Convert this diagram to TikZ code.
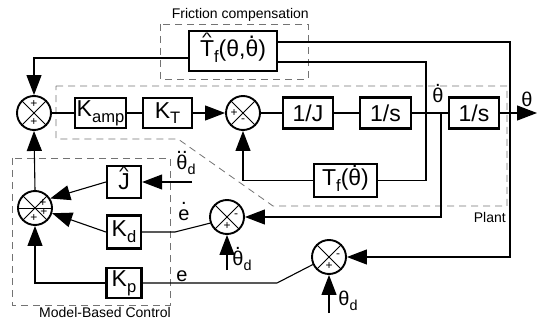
\documentclass[tikz,border=0pt]{standalone}
\usepackage{fontspec}
\setmainfont{Liberation Sans}
\usetikzlibrary{arrows.meta,calc}
\newcommand\dt[1]{\ooalign{#1\cr\hidewidth\raisebox{0.8em}{.}\hidewidth\cr}}
\newcommand\ddt[1]{\ooalign{#1\cr\hidewidth\raisebox{0.8em}{..}\hidewidth\cr}}
\newcommand\hatx[1]{\ooalign{#1\cr\hidewidth\raisebox{0.6em}{\scalebox{0.9}[0.6]{\textasciicircum}}\hidewidth\cr}}
\newcommand\sub[1]{\raisebox{-0.25em}{\scalebox{0.72}{#1}}}
\begin{document}
\begin{tikzpicture}[x=1pt,y=-1pt,
  blk/.style={draw,line width=2.3pt,inner sep=0pt,font=\fontsize{23}{23}\selectfont},
  sumc/.style={draw,circle,line width=1.9pt,minimum size=34pt,inner sep=0pt},
  ln/.style={line width=1.1pt},
  arr/.style={line width=1.1pt,-{Triangle[length=20pt,width=15pt]}},
  sgn/.style={inner sep=0pt,font=\fontsize{12}{12}\selectfont},
  sig/.style={inner sep=0pt,font=\fontsize{20}{20}\selectfont},
  lbl/.style={inner sep=0pt,font=\fontsize{14}{14}\selectfont},
  dsh/.style={draw=black!55,line width=0.8pt,dash pattern=on 7pt off 5pt}]
\useasboundingbox (0,0) rectangle (537,320);

% dashed groups
\draw[dsh] (160,24) rectangle (308,79);
\draw[dsh] (56,86) -- (507,86) -- (507,206) -- (273,206) -- (178,139) -- (56,139) -- cycle;
\draw[dsh] (12,158) rectangle (170,305);
\node[lbl,anchor=east] (lfc) at (309,15) {Friction compensation};
\node[lbl,anchor=east] (lpl) at (506,217) {Plant};
\node[lbl] (lmb) at (105,312) {Model-Based Control};

% blocks
\node[blk,minimum width=51pt,minimum height=30pt] (kamp) at (100.5,113) {K\sub{amp}};
\node[blk,minimum width=49pt,minimum height=30pt] (kt) at (167.5,113) {K\sub{T}};
\node[blk,minimum width=50pt,minimum height=31pt] (ij) at (308,113) {1/J};
\node[blk,minimum width=51pt,minimum height=31pt] (is1) at (385.5,113) {1/s};
\node[blk,minimum width=50pt,minimum height=31pt] (is2) at (474,113) {1/s};
\node[blk,minimum width=88pt,minimum height=40pt] (tfh) at (233,51) {\hatx{T}\sub{f}(θ,\dt{θ})};
\node[blk,minimum width=63pt,minimum height=33pt] (tf) at (345.5,180.5) {T\sub{f}(\dt{θ})};
\node[blk,minimum width=34pt,minimum height=32pt] (jh) at (124,182) {\hatx{J}};
\node[blk,minimum width=34pt,minimum height=33pt] (kd) at (124,232) {K\sub{d}};
\node[blk,minimum width=35pt,minimum height=30pt] (kp) at (124,283) {K\sub{p}};

% summing junctions
\node[sumc] (s1) at (34,113) {};
\node[sumc] (s2) at (243,113) {};
\node[sumc] (s3) at (227,217) {};
\node[sumc] (s4) at (329,257) {};
\node[sumc] (s5) at (35,208) {};
\foreach \s in {s1,s2,s3,s4,s5}{
  \draw[line width=0.8pt] (\s.45) -- (\s.225) (\s.135) -- (\s.315);}
\draw[line width=0.8pt] (s5.west) -- (s5.east);
\node[sgn] at ($(s1)+(0,-9)$) {+};
\node[sgn] at ($(s1)+(0,9)$) {+};
\node[sgn] at ($(s2)+(-9,0)$) {+};
\node[sgn] at ($(s2)+(0,8)$) {-};
\node[sgn] at ($(s3)+(9,-1)$) {-};
\node[sgn] at ($(s3)+(0,9)$) {+};
\node[sgn] at ($(s4)+(9,-1)$) {-};
\node[sgn] at ($(s4)+(0,9)$) {+};
\node[sgn] at ($(s5)+(8,-5)$) {+};
\node[sgn] at ($(s5)+(9,4)$) {+};
\node[sgn] at ($(s5)+(-1,10)$) {+};

% coordinates
\coordinate (out) at (537,113);
\coordinate (b1) at (426,113);
\coordinate (b2) at (441,113);
\coordinate (rc) at (510,257);
\coordinate (k1) at (175,232);
\coordinate (k2) at (277,283);
\coordinate (in2) at (192,182);
\coordinate (in3) at (227,270);
\coordinate (in4) at (329,313);

% forward path
\draw[ln] (s1.east) -- (kamp.west);
\draw[ln] (kamp.east) -- (kt.west);
\draw[arr] (kt.east) -- (s2.west);
\draw[ln] (s2.east) -- (ij.west);
\draw[ln] (ij.east) -- (is1.west);
\draw[ln] (is1.east) -- (is2.west);
\draw[arr] (is2.east) -- (out);

% friction
\draw[arr] ([yshift=-7pt]tfh.west) -| (s1.north);
\draw[arr] ([yshift=9pt]tfh.east) -| (rc) -- (s4.east);
\draw[ln] ([yshift=-11pt]tfh.east) -| (b1 |- tf.east) -- (tf.east);
\draw[arr] (tf.west) -| (s2.south);

% feedback
\draw[arr] (b2) |- (s3.east);
\draw[ln] (s3.200) -- (k1) -- (kd.east);
\draw[arr] (in3) -- (s3.south);
\draw[arr] (in2) -- (jh.east);
\draw[arr] (jh.west) -- (s5.32);
\draw[arr] (kd.west) -- (s5.-17);
\draw[arr] (kp.west) -| (s5.south);
\draw[arr] (s5.north) -- (s1.south);
\draw[ln] (kp.east) -- (k2) -- (s4.205);
\draw[arr] (in4) -- (s4.south);

% signal labels
\node[sig] (lth) at (527,99) {θ};
\node[sig] (ltd) at (438,95) {\dt{θ}};
\node[sig] (ltdd) at (186,165) {\ddt{θ}\sub{d}};
\node[sig] (led) at (184,215) {\dt{e}};
\node[sig] (le) at (182,276) {e};
\node[sig] (ltdr) at (242,261) {\dt{θ}\sub{d}};
\node[sig] (ltr) at (348,301) {θ\sub{d}};
\end{tikzpicture}
\end{document}
